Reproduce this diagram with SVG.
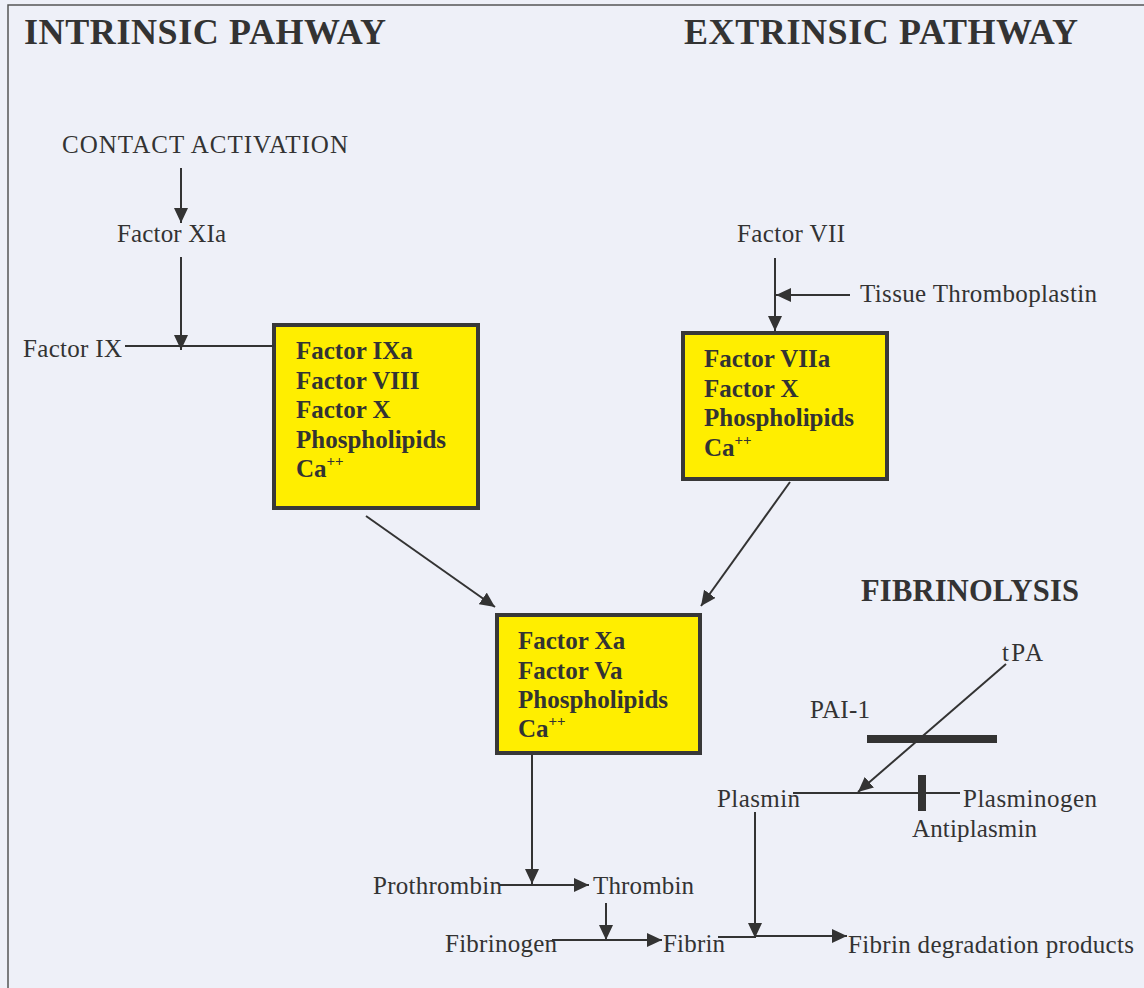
<svg xmlns="http://www.w3.org/2000/svg" width="1144" height="988" viewBox="0 0 1144 988">
<defs>
<marker id="ah" markerUnits="userSpaceOnUse" markerWidth="16" markerHeight="14" refX="15" refY="7" orient="auto">
<path d="M0,0 L15,7 L0,14 Z" fill="#333"/>
</marker>
<style>
text{font-family:"Liberation Serif","Times New Roman",serif;fill:#333;}
.t{font-size:25px;}
.h{font-size:36px;font-weight:bold;}
.b{font-size:25px;font-weight:bold;}
.sup{font-size:15px;font-weight:bold;}
.box{fill:#FFEE00;stroke:#383838;stroke-width:4;}
.ln{stroke:#333;stroke-width:2;fill:none;}
.ar{stroke:#333;stroke-width:2;fill:none;marker-end:url(#ah);}
.bar{stroke:#333;stroke-width:8;}
</style>
</defs>
<rect x="0" y="0" width="1144" height="988" fill="#EEF0F8"/>
<path d="M8,988 L8,5 L1144,5" stroke="#555" stroke-width="1.5" fill="none"/>

<g id="titles">
<text class="h" x="24" y="44" textLength="362" lengthAdjust="spacing">INTRINSIC PAHWAY</text>
<text class="h" x="684" y="44" textLength="394" lengthAdjust="spacing">EXTRINSIC PATHWAY</text>
<text class="h" x="861" y="601" style="font-size:30.5px" textLength="218" lengthAdjust="spacing">FIBRINOLYSIS</text>
</g>

<g id="contact"><text class="t" x="62" y="153" textLength="286" lengthAdjust="spacing">CONTACT ACTIVATION</text></g>
<g id="fxia"><text class="t" x="117" y="242" textLength="109" lengthAdjust="spacing">Factor XIa</text></g>
<g id="fix"><text class="t" x="23" y="357" textLength="99" lengthAdjust="spacing">Factor IX</text></g>
<g id="fvii"><text class="t" x="737" y="242" textLength="108" lengthAdjust="spacing">Factor VII</text></g>
<g id="tissue"><text class="t" x="860" y="302" textLength="237" lengthAdjust="spacing">Tissue Thromboplastin</text></g>

<g id="box1">
<rect class="box" x="274" y="325" width="204" height="183"/>
<text class="b" x="296" y="359">Factor IXa</text>
<text class="b" x="296" y="388.5">Factor VIII</text>
<text class="b" x="296" y="418">Factor X</text>
<text class="b" x="296" y="447.5">Phospholipids</text>
<text class="b" x="296" y="477">Ca<tspan class="sup" dy="-11">++</tspan></text>
</g>

<g id="box2">
<rect class="box" x="683" y="333" width="204" height="146"/>
<text class="b" x="704" y="367">Factor VIIa</text>
<text class="b" x="704" y="396.5">Factor X</text>
<text class="b" x="704" y="426">Phospholipids</text>
<text class="b" x="704" y="455.5">Ca<tspan class="sup" dy="-11">++</tspan></text>
</g>

<g id="box3">
<rect class="box" x="497" y="615" width="203" height="138"/>
<text class="b" x="518" y="649">Factor Xa</text>
<text class="b" x="518" y="679">Factor Va</text>
<text class="b" x="518" y="708">Phospholipids</text>
<text class="b" x="518" y="737">Ca<tspan class="sup" dy="-11">++</tspan></text>
</g>

<g id="prothrombin"><text class="t" x="373" y="894" textLength="129" lengthAdjust="spacing">Prothrombin</text></g>
<g id="thrombin"><text class="t" x="593" y="894" textLength="101" lengthAdjust="spacing">Thrombin</text></g>
<g id="fibrinogen"><text class="t" x="445" y="952" textLength="112" lengthAdjust="spacing">Fibrinogen</text></g>
<g id="fibrin"><text class="t" x="663" y="952" textLength="62" lengthAdjust="spacing">Fibrin</text></g>
<g id="fdp"><text class="t" x="848" y="953" textLength="286" lengthAdjust="spacing">Fibrin degradation products</text></g>
<g id="tpa"><text class="t" x="1002" y="661" textLength="41" lengthAdjust="spacing">tPA</text></g>
<g id="pai1"><text class="t" x="810" y="718" textLength="60" lengthAdjust="spacing">PAI-1</text></g>
<g id="plasmin"><text class="t" x="717" y="807" textLength="83" lengthAdjust="spacing">Plasmin</text></g>
<g id="plasminogen"><text class="t" x="963" y="807" textLength="134" lengthAdjust="spacing">Plasminogen</text></g>
<g id="antiplasmin"><text class="t" x="912" y="837" textLength="125" lengthAdjust="spacing">Antiplasmin</text></g>

<g id="connectors">
<line class="ar" x1="181" y1="168" x2="181" y2="223"/>
<line class="ar" x1="181" y1="257" x2="181" y2="350"/>
<line class="ln" x1="125" y1="346" x2="274" y2="346"/>
<line class="ar" x1="775" y1="258" x2="775" y2="331"/>
<line class="ar" x1="850" y1="295" x2="776" y2="295"/>
<line class="ar" x1="366" y1="516" x2="495" y2="607"/>
<line class="ar" x1="790" y1="482" x2="701" y2="606"/>
<line class="ar" x1="532" y1="755" x2="532" y2="884"/>
<line class="ar" x1="500" y1="885" x2="589" y2="885"/>
<line class="ar" x1="606" y1="903" x2="606" y2="940"/>
<line class="ar" x1="552" y1="940" x2="662" y2="940"/>
<line class="ln" x1="718" y1="937" x2="755" y2="937"/>
<line class="ar" x1="755" y1="812" x2="755" y2="938"/>
<line class="ar" x1="755" y1="936" x2="847" y2="936"/>
<line class="ar" x1="1006" y1="664" x2="858" y2="792"/>
<line class="bar" x1="867" y1="739" x2="997" y2="739"/>
<line class="ln" x1="793" y1="793" x2="960" y2="793"/>
<line class="bar" x1="922" y1="775" x2="922" y2="811"/>
</g>
</svg>
